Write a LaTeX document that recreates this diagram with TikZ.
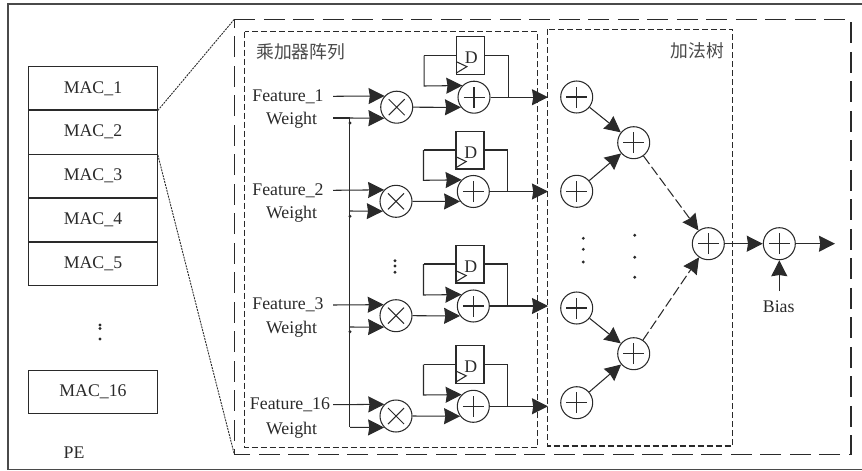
\documentclass[tikz,border=0pt]{standalone}
\usepackage{fontspec}
\setmainfont{Liberation Serif}
\newfontfamily\cjkfont{Noto Sans CJK SC}
\usetikzlibrary{arrows.meta,calc}
\definecolor{ink}{HTML}{2A2A2A}
\tikzset{
  ln/.style={draw=ink,line width=1.05pt},
  arr/.style={ln,-{Stealth[length=16pt,width=16pt,inset=1.2pt]}},
  darr/.style={arr,dash pattern=on 10pt off 3.5pt},
  labelt/.style={font=\fontsize{17.8}{20}\selectfont,text=ink,inner sep=0pt},
  cjkt/.style={font=\cjkfont\fontsize{17.8}{20}\selectfont,text=ink!85,inner sep=0pt},
  op/.style={circle,ln,minimum size=32pt,inner sep=0pt},
  addop/.style={op,path picture={\draw[ink,line width=1.05pt]
    ([xshift=-10.5pt]path picture bounding box.center) -- ([xshift=10.5pt]path picture bounding box.center)
    ([yshift=-10.5pt]path picture bounding box.center) -- ([yshift=10.5pt]path picture bounding box.center);}},
  mulop/.style={op,path picture={\draw[ink,line width=1.05pt]
    ([shift={(-8pt,-8pt)}]path picture bounding box.center) -- ([shift={(8pt,8pt)}]path picture bounding box.center)
    ([shift={(-8pt,8pt)}]path picture bounding box.center) -- ([shift={(8pt,-8pt)}]path picture bounding box.center);}},
  macbox/.style={rectangle,ln,minimum width=128.6pt,inner sep=0pt,font=\fontsize{17.8}{20}\selectfont,text=ink},
  regbox/.style={rectangle,ln,minimum width=28pt,minimum height=37.6pt,inner sep=0pt},
  bigdash/.style={draw=ink,line width=1.6pt,dash pattern=on 21pt off 8.5pt},
  smalldash/.style={draw=ink,line width=1.1pt,dash pattern=on 6pt off 3pt},
  zoomdash/.style={draw=ink,line width=0.9pt,dash pattern=on 2pt off 1pt},
  dotmark/.style={circle,fill=ink,inner sep=0pt,minimum size=3.2pt},
}
\begin{document}
\begin{tikzpicture}[x=1pt,y=-1pt]
\useasboundingbox (0,0) rectangle (862,471);
% outer PE frame
\draw[draw=ink!85,line width=1.4pt] (862,4) -- (8,4) -- (8,469.7) -- (862,469.7);
% MAC column
\node[macbox,minimum height=43.3pt] (mac1) at (93,88.3) {MAC\_1};
\node[macbox,minimum height=44.3pt] (mac2) at (93,132.2) {MAC\_2};
\node[macbox,minimum height=43.7pt] (mac3) at (93,176.2) {MAC\_3};
\node[macbox,minimum height=44pt] (mac4) at (93,220) {MAC\_4};
\node[macbox,minimum height=43.7pt] (mac5) at (93,263.8) {MAC\_5};
\node[macbox,minimum height=43.3pt] (mac16) at (93,391.7) {MAC\_16};
\node[dotmark] (cd1) at (100,325) {};
\node[dotmark] (cd2) at (100,328.5) {};
\node[dotmark] (cd3) at (100,339) {};
\node[labelt] (pe) at (74,453) {PE};
% frames
\coordinate (bigtl) at (234.3,19.3);
\coordinate (bigbl) at (234.3,454.3);
\draw[bigdash] (bigtl) -- (850.7,19.3) -- (850.7,454.3) -- (bigbl) -- cycle;
\draw[smalldash] (244.7,31.7) rectangle (537.3,447.7);
\draw[smalldash] (547.3,29.3) rectangle (732.7,446);
\draw[zoomdash] (mac1.south east) -- (bigtl);
\draw[zoomdash] (mac2.south east) -- (bigbl);
\node[cjkt,anchor=west] (tmul) at (256,51.7) {乘加器阵列};
\node[cjkt] (tadd) at (697.3,51) {加法树};
% MAC blocks
\foreach \i/\dx/\fy/\wy/\my/\py/\ry/\lt/\lb/\ft/\fx/\wty in {
  1/0.7/96.3/118/107.2/97.2/55.3/55.7/86/Feature\_1/288/120.5,
  2/0/190.3/211/201.3/191.5/150.2/150/180.3/Feature\_2/288/214.5,
  3/0/305/327/315.7/306/264.2/264/295/Feature\_3/288/329.5,
  4/0/404.7/427.3/416/406.3/364.5/364.7/395/Feature\_16/290/430}{
  \pgfmathsetmacro\angf{180-asin((\my-\fy)/16)}
  \pgfmathsetmacro\angw{180+asin((\wy-\my)/16)}
  \pgfmathsetmacro\angm{180+asin((\my-\py)/16)}
  \pgfmathsetmacro\angl{180-asin((\py-\lb)/16)}
  \node[labelt] (f\i) at (\fx,\fy) {\ft};
  \node[labelt] (w\i) at (291.5,\wty) {Weight};
  \node[mulop] (m\i) at (396+\dx,\my) {};
  \node[addop] (p\i) at (473.3+\dx,\py) {};
  \node[regbox] (r\i) at (470+\dx,\ry) {};
  \node[labelt] (d\i) at (470.7+\dx,\ry+2.5) {D};
  \draw[ln] ($(r\i.south west)+(0,-13)$) -- ($(r\i.south west)+(10.7,-8)$) -- ($(r\i.south west)+(0,-1.5)$);
  \coordinate (fs\i) at (333,\fy);
  \coordinate (ws\i) at (350,\wy);
  \draw[arr] (fs\i) -- (m\i.\angf);
  \draw[arr] (ws\i) -- (m\i.\angw);
  \draw[arr] (m\i.east) -- (p\i.\angm);
  \coordinate (ll\i) at (423.5+\dx,\lt);
  \coordinate (lb\i) at (423.5+\dx,\lb);
  \coordinate (rr\i) at (507.7+\dx,\lt);
  \coordinate (ro\i) at (507.7+\dx,\py);
  \coordinate (oe\i) at (548,\py);
  \draw[ln] (ll\i) -- (ll\i -| r\i.west);
  \draw[arr] (ll\i) -- (lb\i) -- (p\i.\angl);
  \draw[ln] (rr\i -| r\i.east) -- (rr\i) -- (ro\i);
  \draw[arr] (p\i.east) -- (oe\i);
}
% shared weight bus
\coordinate (wstart) at (333,118);
\coordinate (busbot) at (349.6,427.3);
\draw[ln] (wstart) -- (ws1);
\draw[ln] (ws1) ++(-0.4,0) -- (busbot);
\node[dotmark] (j1) at (350,123) {};
\node[dotmark] (j2) at (350,216.3) {};
\node[dotmark] (j3) at (350,331.7) {};
\node[dotmark] (vd1) at (395,260.7) {};
\node[dotmark] (vd2) at (395,266) {};
\node[dotmark] (vd3) at (395,272.3) {};
% adder tree
\node[addop] (a1) at (576.7,97) {};
\node[addop] (a2) at (576.7,191.3) {};
\node[addop] (a3) at (576.7,308) {};
\node[addop] (a4) at (576.7,402.7) {};
\node[addop] (b1) at (633.7,142.7) {};
\node[addop] (b2) at (633.7,353.7) {};
\node[addop] (root) at (708.3,243.7) {};
\node[addop] (bias) at (779.3,243.7) {};
\draw[arr] (a1) -- (b1);
\draw[arr] (a2) -- (b1);
\draw[arr] (a3) -- (b2);
\draw[arr] (a4) -- (b2);
\draw[darr] (b1) -- (root);
\draw[darr] (b2) -- (root);
\draw[arr] (root) -- (bias);
\coordinate (out) at (835,243.7);
\draw[arr] (bias) -- (out);
\node[labelt] (biast) at (778.7,307) {Bias};
\coordinate (biass) at (779.3,291);
\draw[arr] (biass) -- (bias);
\foreach \n/\x/\y in {t1/583.3/238.3,t2/583.3/249.3,t3/583.3/262,u1/634.7/235.3,u2/634.7/257.3,u3/634.7/277.3}{
  \node[dotmark] (\n) at (\x,\y) {};
}
\end{tikzpicture}
\end{document}
